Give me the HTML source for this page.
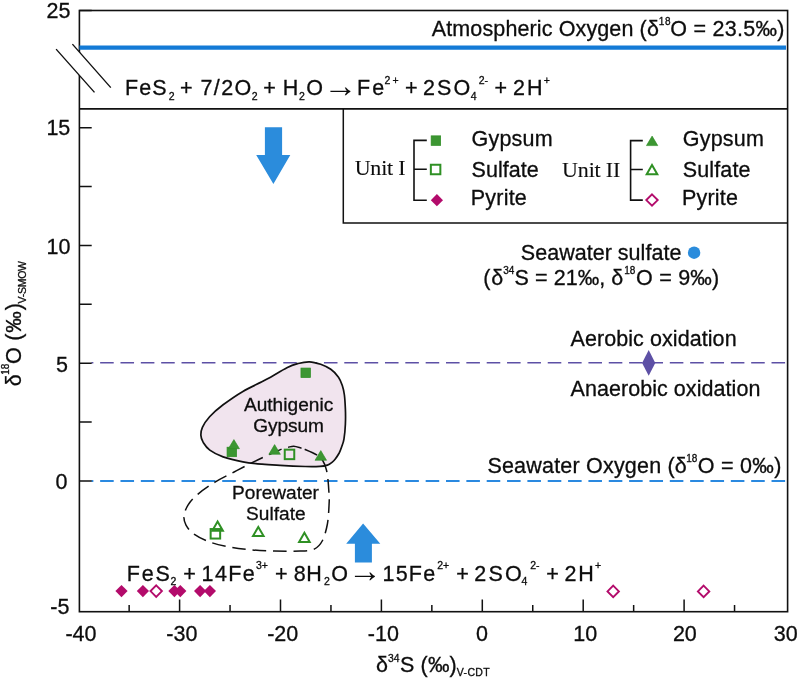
<!DOCTYPE html>
<html lang="en">
<head>
<meta charset="utf-8">
<title>Sulfur and oxygen isotope plot</title>
<style>
html,body{margin:0;padding:0;background:#fff}
body{width:799px;height:680px;overflow:hidden}
svg{display:block}
text{fill:#0d0d0d;stroke:#0d0d0d;stroke-width:0.3px}
.s{font-family:"Liberation Sans", sans-serif}
.r{font-family:"Liberation Serif", serif;stroke-width:0.1px}
</style>
</head>
<body>
<svg width="799" height="680" viewBox="0 0 799 680">
<rect width="799" height="680" fill="#fff"/>
<path d="M91.4,362.8H787.6" stroke="#5d50a5" stroke-width="1.5" stroke-dasharray="13.56 6.785" stroke-dashoffset="11.6" fill="none"/>
<path d="M91.4,481.0H787.6" stroke="#2a89e0" stroke-width="2" stroke-dasharray="13.56 6.785" stroke-dashoffset="11.6" fill="none"/>
<path d="M309.4,361.8 C313.1,361.9 317.1,363.1 320.7,364.3 C324.3,365.6 327.8,367.2 330.8,369.3 C333.8,371.4 336.6,374.5 338.5,377.2 C340.4,379.9 341.3,382.5 342.3,385.5 C343.3,388.5 343.9,391.0 344.4,395.0 C344.9,399.0 345.2,404.6 345.4,409.4 C345.6,414.2 345.6,419.1 345.4,424.0 C345.2,428.9 344.6,435.0 344.0,438.8 C343.4,442.6 342.4,444.6 341.6,447.0 C340.8,449.4 340.2,451.0 339.2,453.0 C338.1,455.0 336.5,457.4 335.3,459.0 C334.1,460.6 333.3,461.3 332.0,462.3 C330.7,463.3 329.4,464.4 327.4,465.1 C325.4,465.8 323.7,466.2 320.0,466.4 C316.3,466.6 311.8,466.7 305.2,466.5 C298.6,466.3 287.3,465.8 280.1,465.4 C272.9,465.0 268.2,464.8 262.0,464.2 C255.8,463.6 249.4,463.0 242.9,461.8 C236.4,460.6 228.6,458.8 223.1,456.9 C217.6,454.9 213.1,452.5 209.8,450.1 C206.5,447.7 204.7,444.8 203.2,442.4 C201.7,439.9 201.0,437.9 200.9,435.4 C200.8,432.9 201.0,430.5 202.4,427.4 C203.8,424.3 206.2,420.6 209.6,416.8 C213.0,413.0 217.5,409.0 223.1,404.8 C228.7,400.6 235.7,395.6 242.9,391.4 C250.1,387.2 258.8,383.6 266.1,379.6 C273.4,375.7 281.5,370.4 286.9,367.7 C292.2,365.0 294.4,364.5 298.2,363.5 C301.9,362.5 305.6,361.7 309.4,361.8Z" fill="#f1e4ee" stroke="#111" stroke-width="1.7"/>
<path d="M304.7,449.3 C307.3,450.4 313.7,453.0 316.7,454.9 C319.7,456.8 321.1,458.1 322.7,460.5 C324.3,462.9 325.4,466.2 326.3,469.5 C327.2,472.8 327.6,476.2 328.0,480.0 C328.4,483.8 328.7,488.3 328.9,492.0 C329.1,495.7 329.4,496.7 329.2,502.0 C328.9,507.3 328.6,517.5 327.4,524.0 C326.2,530.5 324.4,536.8 322.2,541.0 C320.0,545.2 317.9,547.4 314.2,549.1 C310.5,550.8 306.8,550.8 300.1,551.1 C293.4,551.4 282.4,551.3 274.1,551.1 C265.8,550.9 257.4,550.4 250.1,549.7 C242.8,549.0 236.8,548.4 230.1,547.1 C223.4,545.8 216.0,544.3 210.0,542.1 C204.0,539.9 198.0,536.9 194.0,534.1 C190.0,531.3 187.7,528.1 186.0,525.1 C184.3,522.1 183.7,519.4 184.0,516.1 C184.3,512.8 185.7,508.8 188.0,505.1 C190.3,501.4 193.5,497.9 198.0,494.1 C202.5,490.3 209.0,485.8 215.0,482.1 C221.0,478.4 228.1,475.1 234.1,472.0 C240.1,468.9 246.3,465.6 251.1,463.2 C255.9,460.8 259.5,459.1 263.1,457.4 C266.8,455.7 270.0,454.1 273.0,452.8 C276.0,451.5 278.5,450.3 281.0,449.4 C283.5,448.5 286.0,447.8 288.1,447.3 C290.2,446.8 291.7,446.1 293.8,446.2 C295.9,446.3 299.1,447.5 300.9,448.0 C302.7,448.5 302.1,448.2 304.7,449.3Z" fill="none" stroke="#111" stroke-width="1.5" stroke-dasharray="13.635 6.818"/>
<rect x="79.4" y="10.5" width="708.20" height="601.20" fill="none" stroke="#111" stroke-width="1.6"/>
<path d="M79.4,108.9H787.6" stroke="#111" stroke-width="1.9"/>
<path d="M343.3,108.9V223.0H787.6" fill="none" stroke="#111" stroke-width="1.5"/>
<path d="M79.4,47.65H786.0" stroke="#137ad6" stroke-width="4.2"/>
<path d="M79.4,127.65h12.3M79.4,186.52h12.3M79.4,245.40h12.3M79.4,304.27h12.3M79.4,363.15h12.3M79.4,422.02h12.3M79.4,480.90h12.3M79.4,10.5h12.3M179.60,611.7v-12.3M280.50,611.7v-12.3M381.40,611.7v-12.3M482.30,611.7v-12.3M583.20,611.7v-12.3M684.10,611.7v-12.3M129.15,611.7v-6.6M230.05,611.7v-6.6M330.95,611.7v-6.6M431.85,611.7v-6.6M532.75,611.7v-6.6M633.65,611.7v-6.6M734.55,611.7v-6.6" stroke="#111" stroke-width="1.5" fill="none"/>
<polygon points="56.1,49.1 72.4,44.1 110.8,87.6 94.5,92.4" fill="#fff"/>
<path d="M56.1,49.1L94.5,92.4M72.4,44.1L110.8,87.6" stroke="#111" stroke-width="1.4"/>
<path d="M426.8,140.4H414V200.2H426.8M414,169.3H426.8" fill="none" stroke="#111" stroke-width="1.6"/>
<path d="M642.8,140.6H630.6V200.1H642.8M630.6,169.5H642.8" fill="none" stroke="#111" stroke-width="1.6"/>
<rect x="431.15" y="135.85" width="9.5" height="9.5" fill="#3c9632" stroke="#2c8c21" stroke-width="0.7"/>
<rect x="430.85" y="164.75" width="9.5" height="9.5" fill="none" stroke="#2f9024" stroke-width="2.0"/>
<polygon points="436.90,194.10 443.00,200.20 436.90,206.30 430.80,200.20" fill="#b30b6b"/>
<polygon points="652.10,136.09 657.77,145.60 646.43,145.60" fill="#3c9632" stroke="#2c8c21" stroke-width="0.6"/>
<polygon points="652.00,165.00 657.30,174.20 646.70,174.20" fill="none" stroke="#2f9024" stroke-width="2.0" stroke-linejoin="miter"/>
<polygon points="652.00,194.35 657.70,200.05 652.00,205.75 646.30,200.05" fill="#fff" stroke="#b30b6b" stroke-width="1.9"/>
<rect x="300.95" y="368.05" width="9.5" height="9.5" fill="#3c9632" stroke="#2c8c21" stroke-width="0.7"/>
<rect x="227.05" y="447.20" width="9.5" height="9.5" fill="#3c9632" stroke="#2c8c21" stroke-width="0.7"/>
<polygon points="233.90,439.59 239.47,448.70 228.33,448.70" fill="#3c9632" stroke="#2c8c21" stroke-width="0.6"/>
<polygon points="274.60,444.59 280.37,454.30 268.83,454.30" fill="#3c9632" stroke="#2c8c21" stroke-width="0.6"/>
<polygon points="320.80,450.59 326.57,460.30 315.03,460.30" fill="#3c9632" stroke="#2c8c21" stroke-width="0.6"/>
<rect x="284.75" y="449.65" width="9.5" height="9.5" fill="none" stroke="#2f9024" stroke-width="2.0"/>
<polygon points="217.60,521.60 222.90,530.80 212.30,530.80" fill="none" stroke="#2f9024" stroke-width="2.0" stroke-linejoin="miter"/>
<rect x="210.65" y="529.05" width="9.5" height="9.5" fill="none" stroke="#2f9024" stroke-width="2.0"/>
<polygon points="258.30,526.90 263.60,536.10 253.00,536.10" fill="none" stroke="#2f9024" stroke-width="2.0" stroke-linejoin="miter"/>
<polygon points="304.40,532.70 309.70,541.90 299.10,541.90" fill="none" stroke="#2f9024" stroke-width="2.0" stroke-linejoin="miter"/>
<polygon points="121.50,585.00 127.60,591.10 121.50,597.20 115.40,591.10" fill="#b30b6b"/>
<polygon points="142.90,585.00 149.00,591.10 142.90,597.20 136.80,591.10" fill="#b30b6b"/>
<polygon points="174.40,585.00 180.50,591.10 174.40,597.20 168.30,591.10" fill="#b30b6b"/>
<polygon points="180.30,585.00 186.40,591.10 180.30,597.20 174.20,591.10" fill="#b30b6b"/>
<polygon points="200.10,585.00 206.20,591.10 200.10,597.20 194.00,591.10" fill="#b30b6b"/>
<polygon points="209.90,585.00 216.00,591.10 209.90,597.20 203.80,591.10" fill="#b30b6b"/>
<polygon points="156.20,585.40 161.90,591.10 156.20,596.80 150.50,591.10" fill="#fff" stroke="#b30b6b" stroke-width="1.9"/>
<polygon points="613.20,585.70 618.90,591.40 613.20,597.10 607.50,591.40" fill="#fff" stroke="#b30b6b" stroke-width="1.9"/>
<polygon points="703.60,585.70 709.30,591.40 703.60,597.10 697.90,591.40" fill="#fff" stroke="#b30b6b" stroke-width="1.9"/>
<polygon points="648.70,350.10 655.30,362.90 648.70,375.70 642.10,362.90" fill="#5d50a5"/>
<circle cx="694.1" cy="252.7" r="6.2" fill="#2b8cdc"/>
<polygon points="264.9,127.2 282.1,127.2 282.1,155 290.3,155 273.4,183.9 256.2,155 264.9,155" fill="#2b8cdc"/>
<polygon points="363.1,523.6 380.3,543.8 371.9,543.8 371.9,562.6 354.9,562.6 354.9,543.8 346.2,543.8" fill="#2b8cdc"/>
<g>
<text class="s" x="431.75" y="35.60" style="font-size:21.5px;letter-spacing:0.123px">Atmospheric Oxygen (δ</text>
<text class="s" x="658.85" y="24.90" style="font-size:10px;letter-spacing:0.7px">18</text>
<text class="s" x="670.30" y="35.60" style="font-size:21.5px;letter-spacing:0.261px">O = 23.5‰)</text>
<text class="s" x="125.05" y="95.10" style="font-size:21.5px;letter-spacing:1.05px">FeS</text>
<text class="s" x="168.78" y="100.00" style="font-size:10.5px">2</text>
<text class="s" x="180.05" y="95.10" style="font-size:21.5px">+</text>
<text class="s" x="200.40" y="95.10" style="font-size:21.5px;letter-spacing:1.433px">7/2O</text>
<text class="s" x="251.78" y="100.00" style="font-size:10.5px">2</text>
<text class="s" x="263.20" y="95.10" style="font-size:21.5px">+</text>
<text class="s" x="282.70" y="95.10" style="font-size:21.5px">H</text>
<text class="s" x="299.08" y="100.00" style="font-size:10.5px">2</text>
<text class="s" x="306.23" y="95.10" style="font-size:21.5px">O</text>
<text class="s" x="323.60" y="96.60" style="font-size:33.85px;stroke:none">→</text>
<text class="s" x="357.05" y="95.10" style="font-size:21.5px;letter-spacing:2.0px">Fe</text>
<text class="s" x="384.50" y="84.30" style="font-size:10.5px;letter-spacing:2.15px">2+</text>
<text class="s" x="405.05" y="95.10" style="font-size:21.5px">+</text>
<text class="s" x="423.00" y="95.10" style="font-size:21.5px;letter-spacing:2.075px">2SO</text>
<text class="s" x="470.72" y="100.00" style="font-size:10.5px">4</text>
<text class="s" x="478.72" y="84.20" style="font-size:10.5px">2-</text>
<text class="s" x="494.55" y="95.10" style="font-size:21.5px">+</text>
<text class="s" x="513.10" y="95.10" style="font-size:21.5px;letter-spacing:2.05px">2H</text>
<text class="s" x="543.78" y="83.80" style="font-size:10.5px">+</text>
<text class="r" x="354.70" y="175.00" style="font-size:22px;letter-spacing:-0.21px">Unit I</text>
<text class="s" x="471.50" y="145.80" style="font-size:21.5px;letter-spacing:0.22px">Gypsum</text>
<text class="s" x="471.50" y="177.20" style="font-size:21.5px;letter-spacing:0.058px">Sulfate</text>
<text class="s" x="470.75" y="205.20" style="font-size:21.5px;letter-spacing:0.22px">Pyrite</text>
<text class="r" x="562.10" y="177.00" style="font-size:22px;letter-spacing:-0.167px">Unit II</text>
<text class="s" x="682.80" y="145.70" style="font-size:21.5px;letter-spacing:0.19px">Gypsum</text>
<text class="s" x="682.80" y="177.20" style="font-size:21.5px;letter-spacing:0.117px">Sulfate</text>
<text class="s" x="682.05" y="205.20" style="font-size:21.5px;letter-spacing:0.18px">Pyrite</text>
<text class="s" x="520.80" y="259.80" style="font-size:21.5px;letter-spacing:0.027px">Seawater sulfate</text>
<text class="s" x="483.25" y="284.50" style="font-size:21.5px;letter-spacing:0.85px">(δ</text>
<text class="s" x="503.17" y="274.30" style="font-size:10px">34</text>
<text class="s" x="514.60" y="284.50" style="font-size:21.5px;letter-spacing:0.061px">S = 21‰, δ</text>
<text class="s" x="624.25" y="274.30" style="font-size:10px">18</text>
<text class="s" x="636.10" y="284.50" style="font-size:21.5px;letter-spacing:0.217px">O = 9‰)</text>
<text class="s" x="570.50" y="345.50" style="font-size:21.5px;letter-spacing:0.072px">Aerobic oxidation</text>
<text class="s" x="570.50" y="395.80" style="font-size:21.5px;letter-spacing:0.056px">Anaerobic oxidation</text>
<text class="s" x="487.40" y="473.00" style="font-size:21.5px;letter-spacing:0.203px">Seawater Oxygen (δ</text>
<text class="s" x="686.15" y="462.20" style="font-size:10px;letter-spacing:0.15px">18</text>
<text class="s" x="697.70" y="473.00" style="font-size:21.5px;letter-spacing:0.3px">O = 0‰)</text>
<text class="s" x="243.90" y="410.60" style="font-size:19.1px;letter-spacing:0.017px">Authigenic</text>
<text class="s" x="253.30" y="431.90" style="font-size:19.1px;letter-spacing:-0.09px">Gypsum</text>
<text class="s" x="232.10" y="498.80" style="font-size:19.1px;letter-spacing:-0.031px">Porewater</text>
<text class="s" x="246.00" y="520.20" style="font-size:19.1px;letter-spacing:0.025px">Sulfate</text>
<text class="s" x="126.75" y="580.50" style="font-size:21.5px;letter-spacing:1.8px">FeS</text>
<text class="s" x="170.58" y="585.10" style="font-size:10.5px">2</text>
<text class="s" x="183.30" y="580.50" style="font-size:21.5px">+</text>
<text class="s" x="201.60" y="580.50" style="font-size:21.5px;letter-spacing:1.333px">14Fe</text>
<text class="s" x="255.95" y="569.40" style="font-size:10.5px">3+</text>
<text class="s" x="275.00" y="580.50" style="font-size:21.5px">+</text>
<text class="s" x="293.80" y="580.50" style="font-size:21.5px;letter-spacing:0.4px">8H</text>
<text class="s" x="324.02" y="585.10" style="font-size:10.5px">2</text>
<text class="s" x="331.17" y="580.50" style="font-size:21.5px">O</text>
<text class="s" x="348.10" y="581.80" style="font-size:33.85px;stroke:none">→</text>
<text class="s" x="382.50" y="580.50" style="font-size:21.5px;letter-spacing:1.217px">15Fe</text>
<text class="s" x="437.15" y="569.40" style="font-size:10.5px">2+</text>
<text class="s" x="456.20" y="580.50" style="font-size:21.5px">+</text>
<text class="s" x="474.20" y="580.50" style="font-size:21.5px;letter-spacing:2.25px">2SO</text>
<text class="s" x="521.53" y="585.10" style="font-size:10.5px">4</text>
<text class="s" x="530.17" y="569.40" style="font-size:10.5px">2-</text>
<text class="s" x="546.25" y="580.50" style="font-size:21.5px">+</text>
<text class="s" x="564.50" y="580.50" style="font-size:21.5px;letter-spacing:1.9px">2H</text>
<text class="s" x="595.08" y="569.30" style="font-size:10.5px">+</text>
<text class="s" x="46.50" y="17.90" style="font-size:21.5px">25</text>
<text class="s" x="46.40" y="135.40" style="font-size:21.5px">15</text>
<text class="s" x="46.50" y="254.20" style="font-size:21.5px">10</text>
<text class="s" x="56.00" y="371.60" style="font-size:21.5px">5</text>
<text class="s" x="55.55" y="489.20" style="font-size:21.5px">0</text>
<text class="s" x="50.25" y="613.60" style="font-size:21.5px">-5</text>
<text class="s" x="65.38" y="640.60" style="font-size:21.5px">-40</text>
<text class="s" x="166.32" y="640.60" style="font-size:21.5px">-30</text>
<text class="s" x="267.18" y="640.60" style="font-size:21.5px">-20</text>
<text class="s" x="367.83" y="640.60" style="font-size:21.5px">-10</text>
<text class="s" x="476.05" y="640.60" style="font-size:21.5px">0</text>
<text class="s" x="573.30" y="640.60" style="font-size:21.5px">10</text>
<text class="s" x="672.90" y="640.60" style="font-size:21.5px">20</text>
<text class="s" x="773.78" y="640.60" style="font-size:21.5px">30</text>
<text class="s" x="376.05" y="671.90" style="font-size:21.5px">δ</text>
<text class="s" x="387.98" y="661.50" style="font-size:10.3px">34</text>
<text class="s" x="399.90" y="671.90" style="font-size:21.5px;letter-spacing:0.188px">S (‰)</text>
<text class="s" x="456.70" y="676.30" style="font-size:10.5px;letter-spacing:0.388px">V-CDT</text>
<text class="s" transform="translate(21.00,386.20) rotate(-90)" style="font-size:21.5px">δ</text>
<text class="s" transform="translate(9.40,374.65) rotate(-90)" style="font-size:10px;letter-spacing:-0.15px">18</text>
<text class="s" transform="translate(21.00,364.12) rotate(-90)" style="font-size:21.5px">O</text>
<text class="s" transform="translate(21.00,340.85) rotate(-90)" style="font-size:21.5px;letter-spacing:1.025px">(‰)</text>
<text class="s" transform="translate(26.00,303.50) rotate(-90)" style="font-size:10.5px;letter-spacing:-0.25px">V-SMOW</text>
</g>
</svg>
</body>
</html>
